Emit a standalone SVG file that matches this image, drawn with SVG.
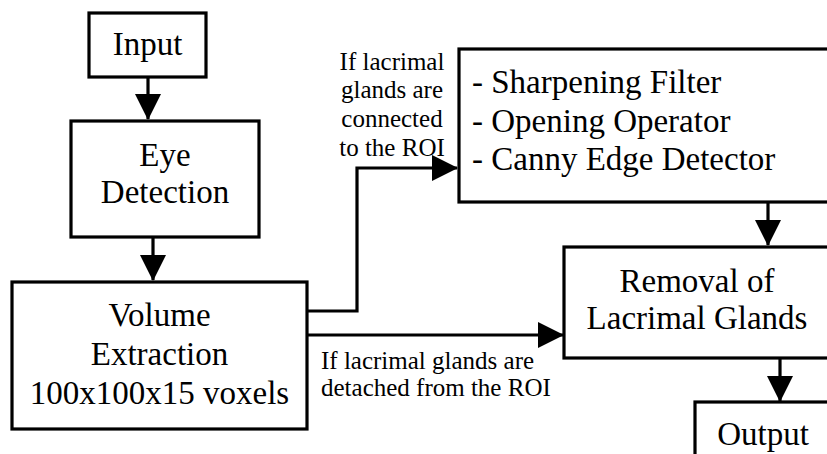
<svg xmlns="http://www.w3.org/2000/svg" width="827" height="454" viewBox="0 0 827 454">
<style>
.box{fill:#fff;stroke:#000;stroke-width:3.2}
.t{font-family:"Liberation Serif","Times New Roman",Times,Tinos,"DejaVu Serif",serif;font-size:33px;fill:#000}
.c{text-anchor:middle}
.lbl{font-family:"Liberation Serif","Times New Roman",Times,Tinos,"DejaVu Serif",serif;font-size:25px;fill:#000}
.ln{fill:none;stroke:#000;stroke-width:3.2}
</style>
<defs>
<marker id="ah" markerUnits="userSpaceOnUse" markerWidth="26" markerHeight="26" viewBox="0 0 26 26" refX="25" refY="13" orient="auto">
<path d="M0,0 L26,13 L0,26 z" fill="#000"/>
</marker>
</defs>
<rect width="827" height="454" fill="#fff"/>
<g id="connectors">
<path class="ln" d="M148,77 V119" marker-end="url(#ah)"/>
<path class="ln" d="M153,237 V280" marker-end="url(#ah)"/>
<path class="ln" d="M307,311 H357 V168 H457" marker-end="url(#ah)"/>
<path class="ln" d="M307,335 H563" marker-end="url(#ah)"/>
<path class="ln" d="M768,202 V245" marker-end="url(#ah)"/>
<path class="ln" d="M780,358 V401" marker-end="url(#ah)"/>
<text class="lbl c" x="392" y="70" font-family="Liberation Serif, serif">If lacrimal</text>
<text class="lbl c" x="392" y="98">glands are</text>
<text class="lbl c" x="392" y="127">connected</text>
<text class="lbl c" x="392" y="156">to the ROI</text>
<text class="lbl" x="321" y="369">If lacrimal glands are</text>
<text class="lbl" x="321" y="396">detached from the ROI</text>
</g>
<g id="input">
<rect class="box" x="89" y="13" width="117" height="64"/>
<text class="t c" x="147.5" y="55">Input</text>
</g>
<g id="eye">
<rect class="box" x="71" y="121" width="188" height="116"/>
<text class="t c" x="165" y="166">Eye</text>
<text class="t c" x="165" y="203">Detection</text>
</g>
<g id="volume">
<rect class="box" x="12" y="282" width="295" height="147"/>
<text class="t c" x="159.5" y="326">Volume</text>
<text class="t c" x="159.5" y="365">Extraction</text>
<text class="t c" x="159.5" y="404">100x100x15 voxels</text>
</g>
<g id="filters">
<rect class="box" x="459" y="49" width="400" height="153"/>
<text class="t" x="472" y="93">- Sharpening Filter</text>
<text class="t" x="472" y="132">- Opening Operator</text>
<text class="t" x="472" y="170">- Canny Edge Detector</text>
</g>
<g id="removal">
<rect class="box" x="564" y="247" width="300" height="111"/>
<text class="t c" x="697" y="292">Removal of</text>
<text class="t c" x="697" y="329">Lacrimal Glands</text>
</g>
<g id="output">
<rect class="box" x="695" y="402" width="200" height="80"/>
<text class="t c" x="763" y="445">Output</text>
</g>
</svg>
